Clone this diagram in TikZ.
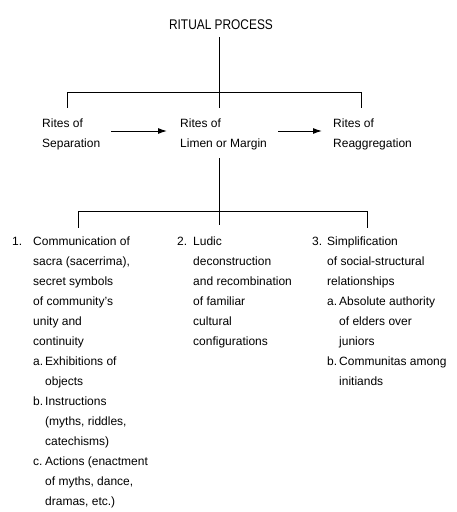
\documentclass[tikz,border=0pt]{standalone}
\usepackage{fontspec}
\setmainfont{Liberation Sans}
\usetikzlibrary{arrows.meta}
\tikzset{
  txt/.style={inner sep=0pt, anchor=base west, font=\fontsize{12}{20}\selectfont},
  ttl/.style={inner xsep=0pt, inner ysep=8pt, anchor=base, font=\fontsize{14}{16}\selectfont},
  ln/.style={line width=0.9pt},
  arr/.style={line width=1pt, -{Latex[length=9pt,width=6pt]}, shorten <=11pt},
}
\begin{document}
\begin{tikzpicture}[x=1pt,y=-1pt]
\useasboundingbox (0,0) rectangle (456,512);
\node[ttl] (title) at (221,29) {\scalebox{0.85}[1]{RITUAL PROCESS}};

\node[txt] (sep) at (42,127) {\begin{tabular}[t]{@{}l@{}}Rites of\\Separation\end{tabular}};
\node[txt] (limen) at (180,127) {\begin{tabular}[t]{@{}l@{}}Rites of\\Limen or Margin\end{tabular}};
\node[txt] (reagg) at (333,127) {\begin{tabular}[t]{@{}l@{}}Rites of\\Reaggregation\end{tabular}};

\node[txt] (c1) at (12,245) {\begin{tabular}[t]{@{}p{21pt}@{}p{12pt}@{}l@{}}
1. & \multicolumn{2}{@{}l@{}}{Communication of}\\
 & \multicolumn{2}{@{}l@{}}{sacra (sacerrima),}\\
 & \multicolumn{2}{@{}l@{}}{secret symbols}\\
 & \multicolumn{2}{@{}l@{}}{of community's}\\
 & \multicolumn{2}{@{}l@{}}{unity and}\\
 & \multicolumn{2}{@{}l@{}}{continuity}\\
 & a. & Exhibitions of\\
 & & objects\\
 & b. & Instructions\\
 & & (myths, riddles,\\
 & & catechisms)\\
 & c. & Actions (enactment\\
 & & of myths, dance,\\
 & & dramas, etc.)
\end{tabular}};

\node[txt] (c2) at (177,245) {\begin{tabular}[t]{@{}p{16pt}@{}l@{}}
2. & Ludic\\
 & deconstruction\\
 & and recombination\\
 & of familiar\\
 & cultural\\
 & configurations
\end{tabular}};

\node[txt] (c3) at (312,245) {\begin{tabular}[t]{@{}p{15pt}@{}p{12pt}@{}l@{}}
3. & \multicolumn{2}{@{}l@{}}{Simplification}\\
 & \multicolumn{2}{@{}l@{}}{of social-structural}\\
 & \multicolumn{2}{@{}l@{}}{relationships}\\
 & a. & Absolute authority\\
 & & of elders over\\
 & & juniors\\
 & b. & Communitas among\\
 & & initiands
\end{tabular}};

\coordinate (b1l) at (67,92);
\coordinate (b1c) at (219,92);
\coordinate (b1r) at (361,92);
\coordinate (b2l) at (78,211);
\coordinate (b2c) at (219,211);
\coordinate (b2r) at (367,211);

\draw[ln] (b1c |- title.south) -- (b1c);
\draw[ln] (b1l) -- (b1r);
\draw[ln] (b1l) -- ([yshift=5pt]b1l |- sep.north);
\draw[ln] (b1c) -- ([yshift=5pt]b1c |- limen.north);
\draw[ln] (b1r) -- ([yshift=5pt]b1r |- reagg.north);

\draw[arr, shorten >=13pt] ([yshift=2pt]sep.east) -- ([yshift=2pt]limen.west);
\draw[arr, shorten >=11pt] ([yshift=2pt]limen.east) -- ([yshift=2pt]reagg.west);

\draw[ln, shorten <=5pt] (b2c |- limen.south) -- (b2c);
\draw[ln] (b2l) -- (b2r);
\draw[ln] (b2l) -- ([yshift=3pt]b2l |- c1.north);
\draw[ln] (b2c) -- ([yshift=6pt]b2c |- c2.north);
\draw[ln] (b2r) -- ([yshift=3pt]b2r |- c3.north);
\end{tikzpicture}
\end{document}
